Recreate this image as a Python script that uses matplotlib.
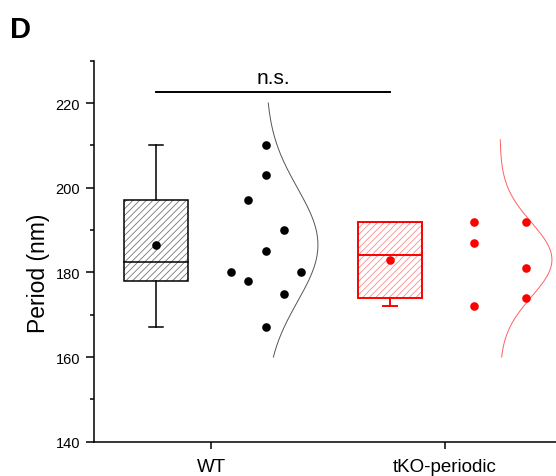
import matplotlib
matplotlib.use('Agg')
import matplotlib.pyplot as plt
import numpy as np
from matplotlib.patches import Rectangle

# ---- data ----
groups = ['WT', 'tKO-periodic']
wt_values = [210, 203, 197, 190, 185, 180, 180, 178, 175, 167]
tko_values = [192, 187, 172, 192, 181, 174]
# swarm column index of each point (layout, in units of one dot step)
wt_swarm = [0, 0, -1, 1, 0, -2, 2, -1, 1, 0]
tko_swarm = [-1.5, -1.5, -1.5, 1.5, 1.5, 1.5]
# value range over which the normal curves are drawn
wt_curve_range = [160, 220]
tko_curve_range = [160, 211.3]
sig_text = 'n.s.'
sig_level = 222.5
y_ticks = [140, 160, 180, 200, 220]

# ---- style ----
plt.rcParams['font.family'] = ['Liberation Sans', 'DejaVu Sans']
plt.rcParams['hatch.linewidth'] = 0.55

colors = ['black', '#ff0000']
hatch_colors = ['#6a6a6a', '#ff8080']
edge_lw = [1.1, 1.4]
curve_colors = ['#555555', '#ff6060']

box_off = -0.235
pts_off = 0.235
box_w = 0.27
cap_w = 0.064
step = 0.0752
curve_amp = 0.222


def tukey_hinges(vals):
    s = np.sort(vals)
    n = len(s)
    half = (n + 1) // 2
    return np.median(s[:half]), np.median(s[n - half:])


fig = plt.figure(figsize=(5.56, 4.77), dpi=100)
ax = fig.add_axes([94 / 556, (477 - 442.7) / 477, 468 / 556, 381 / 477])

data = [wt_values, tko_values]
swarms = [wt_swarm, tko_swarm]
ranges = [wt_curve_range, tko_curve_range]

for i, (vals, sw, rng) in enumerate(zip(data, swarms, ranges)):
    x = i + 1
    v = np.array(vals, dtype=float)
    q1, q3 = tukey_hinges(v)
    med = np.median(v)
    mean = v.mean()
    sd = v.std(ddof=1)
    lo, hi = v.min(), v.max()
    bx = x + box_off
    lw = edge_lw[i]
    # hatched fill
    ax.add_patch(Rectangle((bx - box_w / 2, q1), box_w, q3 - q1, facecolor='white',
                           edgecolor=hatch_colors[i], hatch='/////', linewidth=0, zorder=2))
    ax.add_patch(Rectangle((bx - box_w / 2, q1), box_w, q3 - q1, fill=False,
                           edgecolor=colors[i], linewidth=lw, zorder=3))
    ax.plot([bx - box_w / 2, bx + box_w / 2], [med, med], color=colors[i], lw=lw, zorder=3)
    # whiskers
    ax.plot([bx, bx], [q3, hi], color=colors[i], lw=lw, zorder=3)
    ax.plot([bx, bx], [lo, q1], color=colors[i], lw=lw, zorder=3)
    ax.plot([bx - cap_w / 2, bx + cap_w / 2], [hi, hi], color=colors[i], lw=lw, zorder=3)
    ax.plot([bx - cap_w / 2, bx + cap_w / 2], [lo, lo], color=colors[i], lw=lw, zorder=3)
    # mean
    ax.plot([bx], [mean], 'o', color=colors[i], ms=6.2, mec='none', zorder=4)
    # points
    px = x + pts_off + np.array(sw) * step
    ax.plot(px, v, 'o', color=colors[i], ms=6.2, mec='none', zorder=4, linestyle='none')
    # normal curve
    yy = np.linspace(rng[0], rng[1], 300)
    dens = np.exp(-0.5 * ((yy - mean) / sd) ** 2)
    ax.plot(x + pts_off + curve_amp * dens, yy, color=curve_colors[i], lw=0.7, zorder=3)

# significance bar
x1, x2 = 1 + box_off, 2 + box_off
ax.plot([x1, x2], [sig_level, sig_level], color='black', lw=1.4, clip_on=False)
ax.text((x1 + x2) / 2, sig_level + 1.2, sig_text, ha='center', va='bottom', fontsize=15)

ax.set_xlim(0.5, 2.5)
ax.set_ylim(140, 230)
ax.set_xticks([1, 2])
ax.set_xticklabels(groups, fontsize=13.5)
ax.set_yticks(y_ticks)
ax.set_yticklabels([str(t) for t in y_ticks], fontsize=10.5)
ax.set_yticks(np.arange(150, 231, 20), minor=True)
ax.tick_params(axis='y', which='major', length=6, width=1.1, direction='out', pad=4)
ax.tick_params(axis='y', which='minor', length=3.2, width=1.1, direction='out')
ax.tick_params(axis='x', which='major', length=5, width=1.1, direction='out', pad=7)

for s in ['top', 'right']:
    ax.spines[s].set_visible(False)
for s in ['left', 'bottom']:
    ax.spines[s].set_linewidth(1.1)

ax.set_ylabel('Period (nm)', fontsize=16.5)
ax.yaxis.label.set_va('center')
ax.yaxis.set_label_coords((38 - 94) / 468, (442.7 - 273) / 381)

fig.text(10 / 556, 1 - 38 / 477, 'D', fontsize=21, fontweight='bold', ha='left', va='baseline')

fig.savefig('out.png', dpi=100)
